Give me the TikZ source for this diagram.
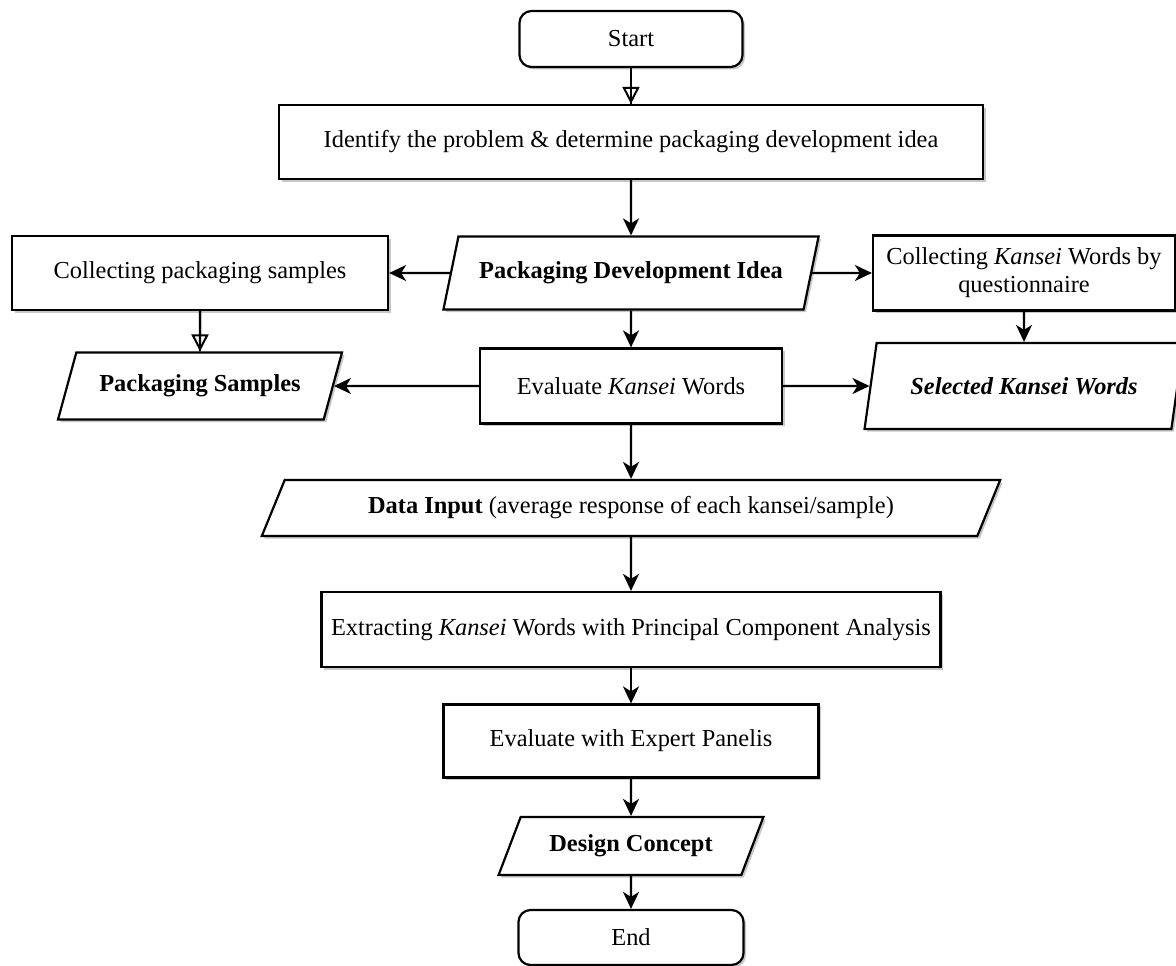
\documentclass[tikz,border=0pt]{standalone}
\usepackage{fontspec}
\setmainfont{Liberation Serif}
\usetikzlibrary{shapes.geometric, arrows.meta, shadows}
\begin{document}
\begin{tikzpicture}[x=1pt,y=-1pt,
  font=\fontsize{24.4}{28}\selectfont,
  box/.style={draw, line width=2.2pt, fill=white, rectangle, inner sep=2pt, align=center,
    drop shadow={shadow xshift=2.5pt, shadow yshift=-2.5pt, opacity=0.22, fill=black}},
  term/.style={box, rounded corners=12pt},
  para/.style={box, trapezium, trapezium stretches=true},
  arr/.style={line width=2.2pt, -{Stealth[length=17pt,width=16pt,inset=5pt]}},
  oarr/.style={line width=2pt, -{Triangle[open,length=17pt,width=17pt]}},
  plainline/.style={line width=2.2pt},
]
\useasboundingbox (0,0) rectangle (1176,966);

\node[term, minimum width=223pt, minimum height=56pt] (start) at (631,39) {Start};
\node[box, minimum width=704pt, minimum height=74pt] (ident) at (631,142) {Identify the problem \& determine packaging development idea};
\node[para, trapezium left angle=63, trapezium right angle=117, minimum width=377pt, minimum height=73pt] (pdi) at (631,273) {\textbf{Packaging Development Idea}};
\node[box, minimum width=376pt, minimum height=74pt] (cps) at (200,273) {Collecting packaging samples};
\node[box, minimum width=302pt, minimum height=75pt] (ckw) at (1024,273) {Collecting \textit{Kansei} Words by\\questionnaire};
\node[para, trapezium left angle=60, trapezium right angle=120, minimum width=284pt, minimum height=67pt] (ps) at (200,386) {\textbf{Packaging Samples}};
\node[box, minimum width=302pt, minimum height=75pt] (ekw) at (631,386) {Evaluate \textit{Kansei} Words};
\node[para, trapezium left angle=66, trapezium right angle=114, minimum width=320pt, minimum height=86pt] (skw) at (1024,386) {\textbf{\textit{Selected Kansei Words}}};
\node[para, trapezium left angle=56.5, trapezium right angle=123.5, minimum width=745pt, minimum height=56pt] (di) at (631,508) {\textbf{Data Input} (average response of each kansei/sample)};
\node[box, minimum width=619pt, minimum height=75pt] (ext) at (631,629.5) {Extracting \textit{Kansei} Words with Principal Component Analysis};
\node[box, minimum width=375pt, minimum height=73pt] (exp) at (631,741) {Evaluate with Expert Panelis};
\node[para, trapezium left angle=57.5, trapezium right angle=122.5, minimum width=265pt, minimum height=58pt] (dc) at (631,846) {\textbf{Design Concept}};
\node[term, minimum width=225pt, minimum height=55pt] (end) at (631,937.5) {End};

\draw[plainline] (start.south) -- (ident.north);
\draw[oarr] (start.south) -- (ident.north);
\draw[arr] (ident.south) -- (pdi.north);
\draw[arr] (pdi.west) -- (cps.east);
\draw[arr] (pdi.east) -- (ckw.west);
\draw[arr] (pdi.south) -- (ekw.north);
\draw[plainline] (cps.south) -- (ps.north);
\draw[oarr] (cps.south) -- (ps.north);
\draw[arr] (ckw.south) -- (skw.north);
\draw[arr] (ekw.west) -- (ps.east);
\draw[arr] (ekw.east) -- (skw.west);
\draw[arr] (ekw.south) -- (di.north);
\draw[arr] (di.south) -- (ext.north);
\draw[arr] (ext.south) -- (exp.north);
\draw[arr] (exp.south) -- (dc.north);
\draw[arr] (dc.south) -- (end.north);
\end{tikzpicture}
\end{document}
